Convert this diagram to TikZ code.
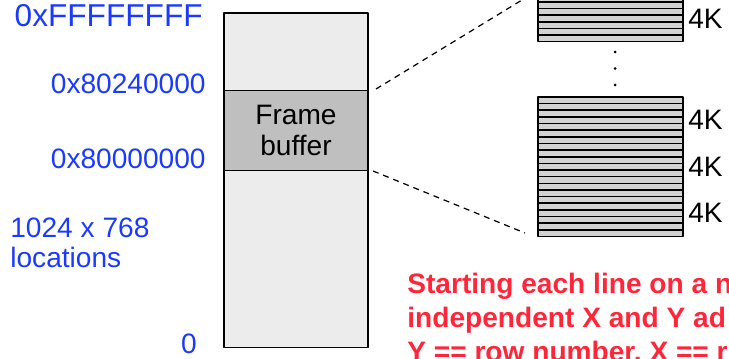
\documentclass[tikz,border=0pt]{standalone}
\usepackage{fontspec}
\setmainfont{Liberation Sans}
\definecolor{addrblue}{RGB}{28,58,255}
\definecolor{notered}{RGB}{255,38,58}
\tikzset{
  addr/.style={text=addrblue, inner sep=0pt},
  stripe/.style={draw=black, fill=gray!35, line width=0.9pt},
  link/.style={draw=black, line width=0.7pt, dash pattern=on 3.4pt off 2.8pt},
}
\begin{document}
\begin{tikzpicture}[x=0.02cm, y=-0.02cm, font=\fontsize{16}{19}\selectfont, line join=round]
	\useasboundingbox (0,0) rectangle (729,358);
	\clip (0,0) rectangle (729,358);
	\def\pgL{538} \def\pgR{683} \def\pgH{6.64}
	% address space
	\node[draw, line width=0.8pt, fill=gray!15, minimum width=2.88cm, minimum height=6.7cm, inner sep=0pt] (mem) at (296,180.3) {};
	\node[draw, line width=0.8pt, fill=gray!50, minimum width=2.88cm, minimum height=1.6cm, inner sep=0pt, align=center] (fb) at (296,130.7) {Frame\\[-1.5pt]buffer};
	\node[addr, anchor=base east, font=\fontsize{18}{21}\selectfont] (atop) at (203,27) {0xFFFFFFFF};
	\node[addr, anchor=base east] (afbtop) at (206,93) {0x80240000};
	\node[addr, anchor=base east] (afbbot) at (206,168) {0x80000000};
	\node[addr, anchor=base west, align=left, font=\fontsize{16}{17}\selectfont] (aloc) at (10,267) {1024 x 768\\locations};
	\node[addr, anchor=base east] (azero) at (197,353) {0};
	% pages of 4K
	\foreach \top/\nm in {-4.8/pga, 97/pgb, 143.5/pgc, 190/pgd}{
		\foreach \i in {0,...,6}
			\draw[stripe] (\pgL,\top+\i*\pgH) rectangle (\pgR,\top+\i*\pgH+\pgH);
		\node[anchor=west, inner sep=0pt] (\nm) at (688,\top+3.5*\pgH) {4K};
	}
	\foreach \y in {52,68.5,85}
		\fill (615,\y) circle (1.5);
	% mapping
	\coordinate (fbA) at (376,89);
	\coordinate (fbB) at (373,171);
	\coordinate (pgA) at (522,0);
	\coordinate (pgB) at (525,233);
	\draw[link] (fbA) -- (pgA);
	\draw[link] (fbB) -- (pgB);
	\node[anchor=base west, align=left, inner sep=0pt, text=notered, font=\bfseries\fontsize{16}{19.3}\selectfont] (note) at (407,361)
		{Starting each line on a n\\independent X and Y ad\\Y == row number, X == r};
\end{tikzpicture}
\end{document}
